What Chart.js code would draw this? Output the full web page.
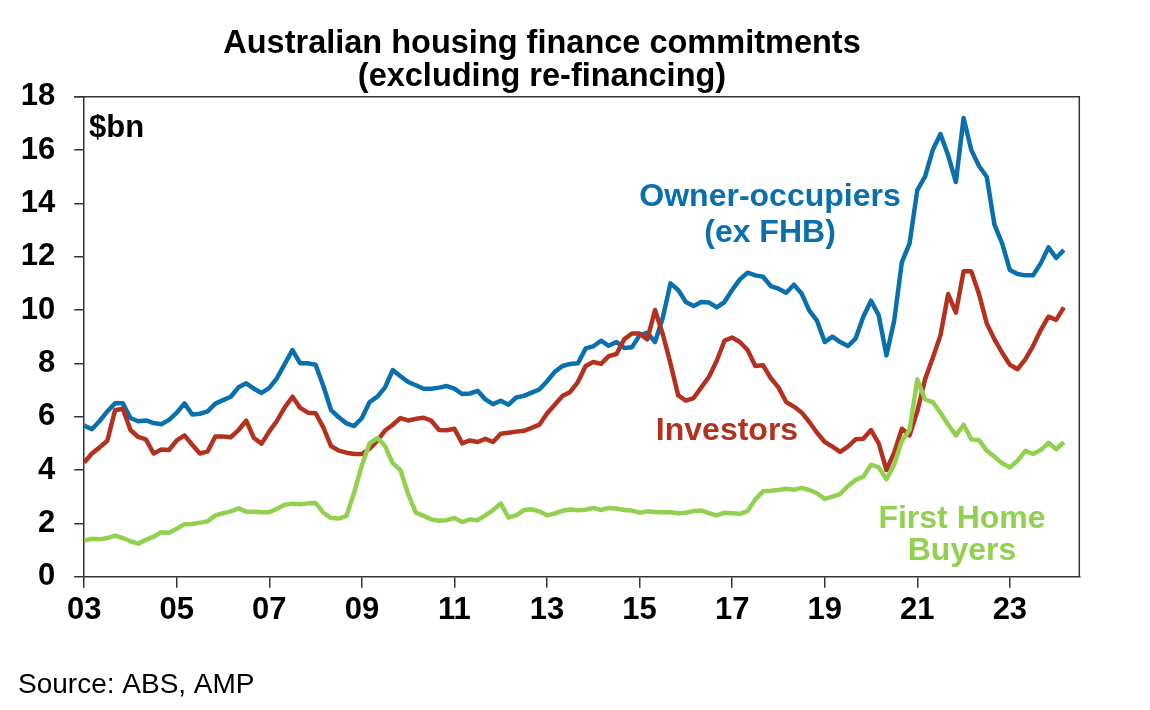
<!DOCTYPE html>
<html>
<head>
<meta charset="utf-8">
<title>Australian housing finance commitments</title>
<script src="https://cdn.jsdelivr.net/npm/chart.js@4.4.1/dist/chart.umd.min.js"></script>
<style>
    html, body { margin: 0; padding: 0; background: #fff; }
    #wrap { width: 1150px; height: 710px; }
</style>
</head>
<body>
<div id="wrap"><canvas id="chart" width="1150" height="710"></canvas></div>
<script>
// bi-monthly observations, Jan 2003 onwards ($bn)
const START_YEAR = 2003;
const STEP = 1 / 6;

const ownerOccupiers = [
    5.67, 5.53, 5.84, 6.20, 6.50, 6.50, 5.95, 5.83, 5.86, 5.76, 5.72, 5.88,
    6.15, 6.50, 6.08, 6.11, 6.20, 6.49, 6.62, 6.75, 7.10, 7.25, 7.05, 6.89,
    7.08, 7.45, 7.98, 8.50, 8.00, 8.00, 7.95, 7.15, 6.25, 5.98, 5.75, 5.65,
    5.95, 6.55, 6.75, 7.10, 7.75, 7.52, 7.30, 7.18, 7.05, 7.05, 7.09, 7.15,
    7.05, 6.85, 6.87, 6.97, 6.65, 6.47, 6.60, 6.45, 6.72, 6.78, 6.90, 7.02,
    7.33, 7.68, 7.90, 7.98, 8.00, 8.56, 8.64, 8.85, 8.66, 8.80, 8.58, 8.60,
    9.05, 9.15, 8.80, 9.70, 11.00, 10.75, 10.30, 10.15, 10.30, 10.28, 10.10, 10.30,
    10.75, 11.15, 11.40, 11.30, 11.25, 10.90, 10.80, 10.65, 10.95, 10.62, 9.98, 9.60,
    8.80, 9.00, 8.80, 8.65, 8.93, 9.75, 10.35, 9.80, 8.30, 9.60, 11.80, 12.50,
    14.50, 15.00, 16.00, 16.60, 15.80, 14.80, 17.20, 16.00, 15.40, 15.00, 13.20, 12.50,
    11.50, 11.35, 11.30, 11.30, 11.75, 12.35, 11.95, 12.25
];

const investors = [
    4.28, 4.62, 4.85, 5.10, 6.24, 6.30, 5.50, 5.24, 5.15, 4.62, 4.77, 4.75,
    5.11, 5.30, 4.95, 4.62, 4.70, 5.26, 5.26, 5.23, 5.50, 5.85, 5.20, 4.99,
    5.45, 5.85, 6.35, 6.75, 6.33, 6.15, 6.13, 5.60, 4.90, 4.73, 4.65, 4.60,
    4.60, 4.80, 5.10, 5.48, 5.70, 5.95, 5.86, 5.92, 5.96, 5.85, 5.50, 5.49,
    5.55, 5.00, 5.11, 5.05, 5.17, 5.05, 5.36, 5.40, 5.44, 5.47, 5.58, 5.70,
    6.12, 6.45, 6.78, 6.93, 7.30, 7.90, 8.05, 7.98, 8.27, 8.35, 8.90, 9.12,
    9.12, 8.90, 10.00, 9.10, 8.00, 6.80, 6.60, 6.70, 7.10, 7.50, 8.10, 8.85,
    8.97, 8.80, 8.50, 7.90, 7.93, 7.45, 7.10, 6.55, 6.38, 6.16, 5.80, 5.40,
    5.05, 4.88, 4.68, 4.88, 5.15, 5.17, 5.50, 5.00, 4.00, 4.65, 5.55, 5.30,
    6.20, 7.40, 8.20, 9.05, 10.60, 9.90, 11.45, 11.45, 10.60, 9.50, 8.90, 8.40,
    7.95, 7.78, 8.15, 8.65, 9.25, 9.75, 9.63, 10.10
];

const firstHomeBuyers = [
    1.36, 1.42, 1.40, 1.45, 1.54, 1.45, 1.33, 1.24, 1.38, 1.50, 1.67, 1.65,
    1.80, 1.97, 1.98, 2.02, 2.08, 2.30, 2.38, 2.45, 2.56, 2.44, 2.44, 2.42,
    2.42, 2.55, 2.70, 2.74, 2.72, 2.75, 2.76, 2.40, 2.20, 2.18, 2.28, 3.16,
    4.18, 5.00, 5.20, 4.90, 4.25, 4.00, 3.10, 2.40, 2.28, 2.15, 2.10, 2.12,
    2.20, 2.05, 2.15, 2.12, 2.30, 2.50, 2.75, 2.22, 2.30, 2.50, 2.53, 2.45,
    2.30, 2.37, 2.47, 2.52, 2.49, 2.51, 2.58, 2.50, 2.58, 2.56, 2.50, 2.48,
    2.40, 2.45, 2.43, 2.42, 2.42, 2.38, 2.40, 2.46, 2.48, 2.38, 2.30, 2.40,
    2.38, 2.36, 2.46, 2.90, 3.20, 3.22, 3.25, 3.30, 3.26, 3.33, 3.25, 3.13,
    2.92, 3.00, 3.10, 3.40, 3.63, 3.75, 4.20, 4.10, 3.65, 4.20, 5.10, 5.50,
    7.40, 6.65, 6.55, 6.15, 5.70, 5.30, 5.70, 5.15, 5.12, 4.73, 4.50, 4.25,
    4.10, 4.35, 4.72, 4.60, 4.75, 5.02, 4.78, 5.05
];

const xTicks = [2003, 2005, 2007, 2009, 2011, 2013, 2015, 2017, 2019, 2021, 2023];
const yTicks = [0, 2, 4, 6, 8, 10, 12, 14, 16, 18];

const titleLines = ['Australian housing finance commitments', '(excluding re-financing)'];
const unitLabel = '$bn';
const sourceText = 'Source: ABS, AMP';

const BLUE = '#0a70ad';
const RED = '#b3321f';
const GREEN = '#92d050';
const AXIS = '#333333';
const FONT = '"Liberation Sans", Arial, sans-serif';

function toPoints(values) {
    return values.map((v, i) => ({ x: START_YEAR + i * STEP, y: v }));
}

const seriesLabels = [
    { lines: ['Owner-occupiers', '(ex FHB)'], color: BLUE, x: 770, y: 206, gap: 36 },
    { lines: ['Investors'], color: RED, x: 727, y: 440, gap: 0 },
    { lines: ['First Home', 'Buyers'], color: GREEN, x: 962, y: 528, gap: 32 }
];

const textPlugin = {
    id: 'chartText',
    afterDraw(chart) {
        const ctx = chart.ctx;
        const area = chart.chartArea;
        ctx.save();

        // frame: top and right edges
        ctx.strokeStyle = AXIS;
        ctx.lineWidth = 1.5;
        ctx.beginPath();
        ctx.moveTo(area.left - 10, area.top);
        ctx.lineTo(area.right, area.top);
        ctx.lineTo(area.right, area.bottom);
        ctx.stroke();

        ctx.fillStyle = '#000';
        ctx.textAlign = 'center';
        ctx.textBaseline = 'alphabetic';
        ctx.font = 'bold 32.5px ' + FONT;
        ctx.fillText(titleLines[0], 542, 53);
        ctx.fillText(titleLines[1], 542, 86);

        ctx.textAlign = 'left';
        ctx.font = 'bold 31px ' + FONT;
        ctx.fillText(unitLabel, 89, 137);

        ctx.font = '28px ' + FONT;
        ctx.fillText(sourceText, 18, 693);

        ctx.textAlign = 'center';
        ctx.font = 'bold 32px ' + FONT;
        seriesLabels.forEach(lbl => {
            ctx.fillStyle = lbl.color;
            lbl.lines.forEach((line, i) => ctx.fillText(line, lbl.x, lbl.y + i * lbl.gap));
        });

        ctx.restore();
    }
};

const lineStyle = {
    borderWidth: 4.5,
    pointRadius: 0,
    tension: 0,
    fill: false,
    borderJoinStyle: 'round'
};

new Chart(document.getElementById('chart'), {
    type: 'line',
    data: {
        datasets: [
            { label: 'Owner-occupiers (ex FHB)', data: toPoints(ownerOccupiers), borderColor: BLUE, order: 3, ...lineStyle },
            { label: 'Investors', data: toPoints(investors), borderColor: RED, order: 2, ...lineStyle },
            { label: 'First Home Buyers', data: toPoints(firstHomeBuyers), borderColor: GREEN, order: 1, ...lineStyle }
        ]
    },
    options: {
        responsive: false,
        animation: false,
        layout: { padding: { left: 0, right: 70.7, top: 96.7, bottom: 0 } },
        plugins: {
            legend: { display: false },
            tooltip: { enabled: false },
            title: { display: false }
        },
        scales: {
            x: {
                type: 'linear',
                min: 2003,
                max: 2024.5,
                afterBuildTicks: scale => { scale.ticks = xTicks.map(v => ({ value: v })); },
                afterFit: scale => { scale.height = 133.3; },
                grid: { drawOnChartArea: false, tickLength: 11, color: AXIS, lineWidth: 1.5 },
                border: { color: AXIS, width: 1.5 },
                ticks: {
                    autoSkip: false,
                    maxRotation: 0,
                    padding: 4,
                    color: '#000',
                    font: { family: FONT, size: 31, weight: 'bold' },
                    callback: value => String(value).slice(2)
                }
            },
            y: {
                min: 0,
                max: 18,
                afterBuildTicks: scale => { scale.ticks = yTicks.map(v => ({ value: v })); },
                afterFit: scale => { scale.width = 84.2; },
                grid: { drawOnChartArea: false, tickLength: 10, color: AXIS, lineWidth: 1.5 },
                border: { color: AXIS, width: 1.5 },
                ticks: {
                    padding: 19,
                    color: '#000',
                    font: { family: FONT, size: 31, weight: 'bold' }
                }
            }
        }
    },
    plugins: [textPlugin]
});
</script>
</body>
</html>
